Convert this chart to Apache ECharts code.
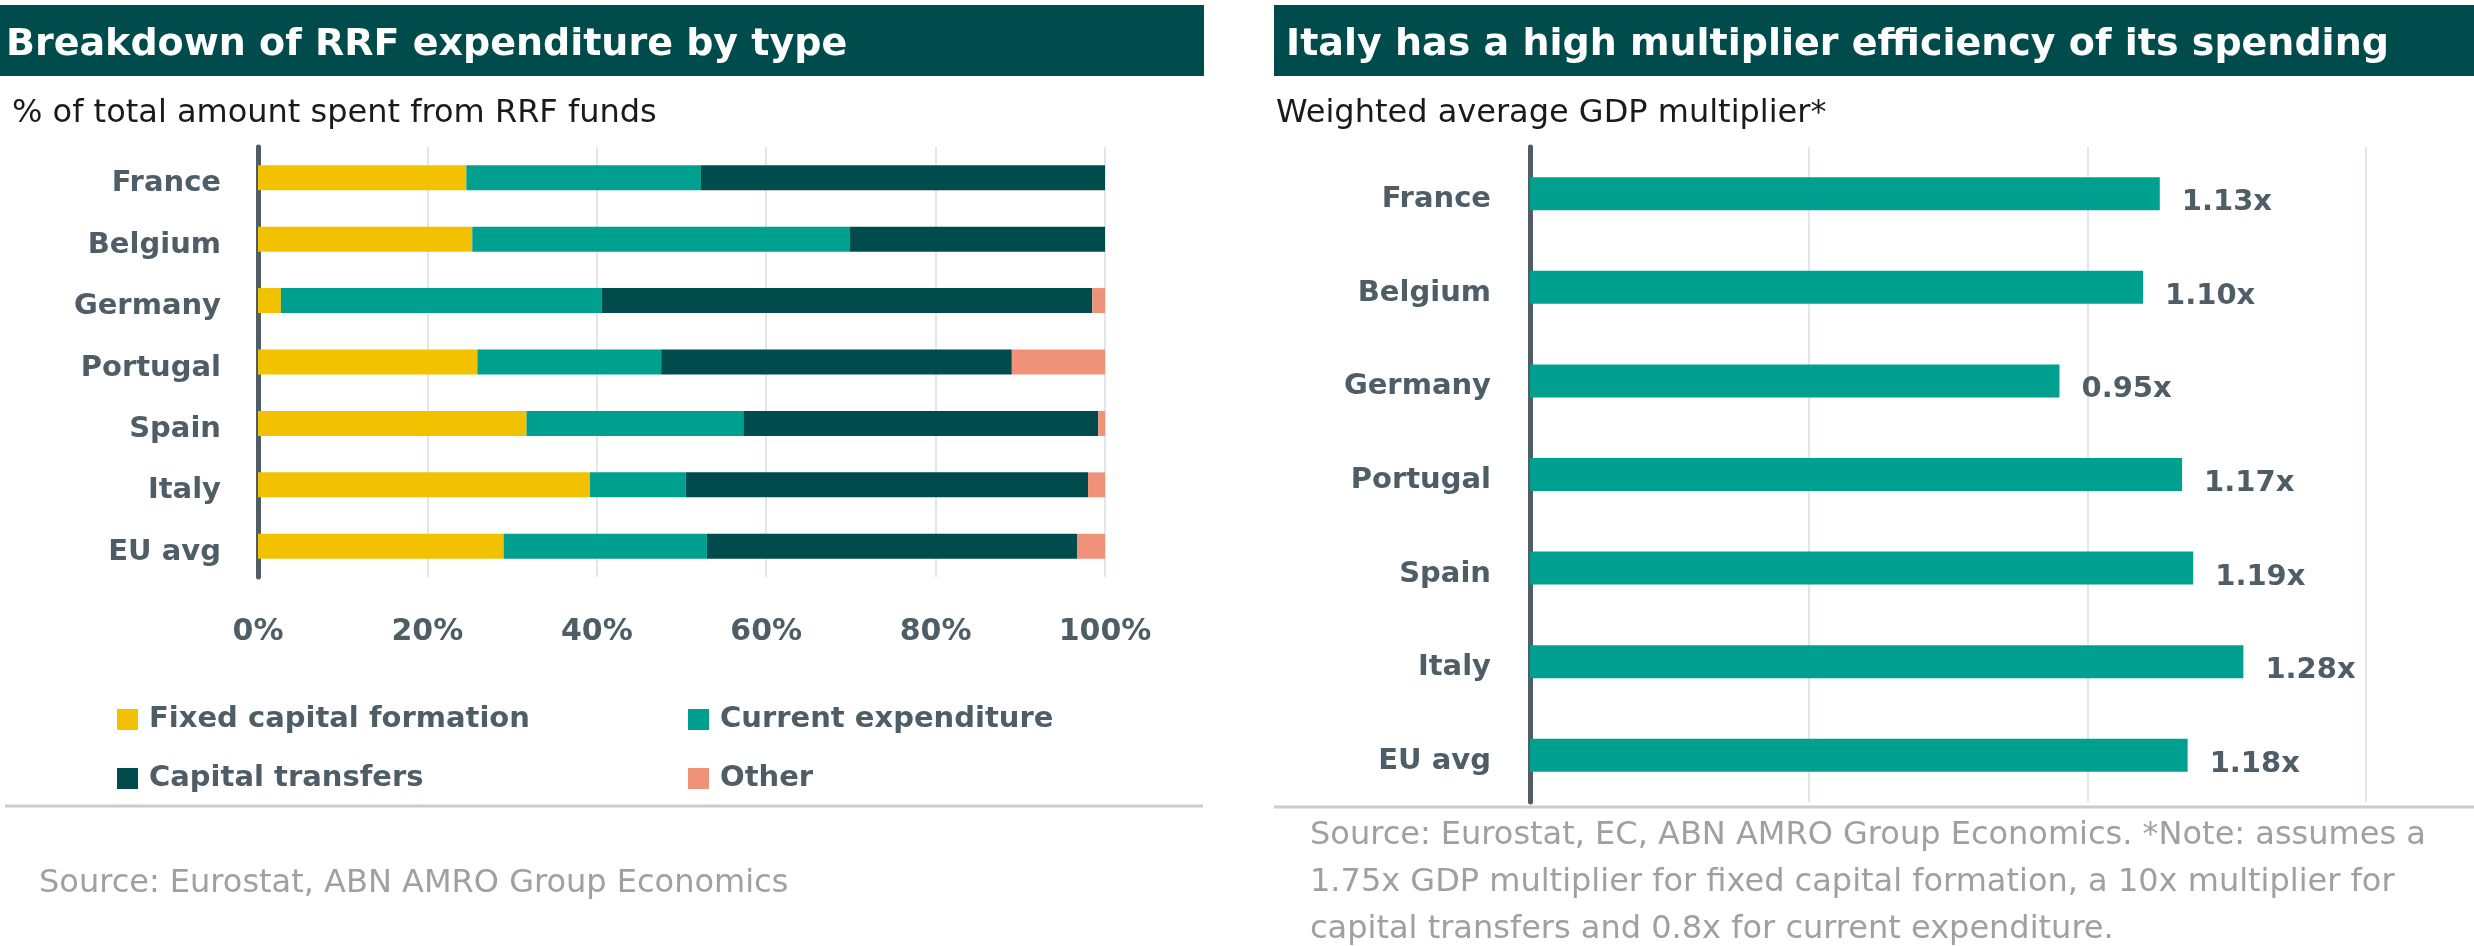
<!DOCTYPE html>
<html>
<head>
<meta charset="utf-8">
<script src="https://cdn.jsdelivr.net/npm/echarts@6/dist/echarts.min.js"></script>
<style>
html,body{margin:0;padding:0;background:#fff;}
#chart{width:2474px;height:946px;}
</style>
</head>
<body>
<div id="chart"></div>
<script>
// ---- data ----
const categories = ['France', 'Belgium', 'Germany', 'Portugal', 'Spain', 'Italy', 'EU avg'];
const fixedCapital = [24.6, 25.3, 2.7, 25.9, 31.7, 39.2, 29.0];
const currentExpenditure = [27.7, 44.6, 37.9, 21.7, 25.6, 11.3, 24.0];
const capitalTransfers = [47.7, 30.1, 57.9, 41.4, 41.9, 47.5, 43.7];
const other = [0, 0, 1.5, 11.0, 0.8, 2.0, 3.3];
const multiplier = [1.13, 1.10, 0.95, 1.17, 1.19, 1.28, 1.18];
const seriesNames = ['Fixed capital formation', 'Current expenditure', 'Capital transfers', 'Other'];
const leftTitle = 'Breakdown of RRF expenditure by type';
const leftSubtitle = '% of total amount spent from RRF funds';
const rightTitle = 'Italy has a high multiplier efficiency of its spending';
const rightSubtitle = 'Weighted average GDP multiplier*';
const leftSource = 'Source: Eurostat, ABN AMRO Group Economics';
const rightSource = [
  'Source: Eurostat, EC, ABN AMRO Group Economics. *Note: assumes a',
  '1.75x GDP multiplier for fixed capital formation, a 10x multiplier for',
  'capital transfers and 0.8x for current expenditure.'
];

// ---- style ----
const FONT = 'DejaVu Sans';
const DARK = '#004c4c';
const TEAL = '#00a090';
const YELLOW = '#f2c200';
const SALMON = '#f0917a';
const AXIS = '#4f5d66';
const GRID = '#e1e6e9';
const colors = [YELLOW, TEAL, DARK, SALMON];
const seriesData = [fixedCapital, currentExpenditure, capitalTransfers, other];

const chart = echarts.init(document.getElementById('chart'), null, {renderer: 'canvas'});

function txt(text, x, y, font, fill, align) {
  return {type: 'text', x: x, y: y, silent: true,
    style: {text: text, font: font, fill: fill, textAlign: align || 'left', textVerticalAlign: 'middle', verticalAlign: 'middle'}};
}

const graphics = [
  {type: 'rect', shape: {x: 0, y: 5, width: 1204, height: 71}, style: {fill: DARK}, silent: true},
  {type: 'rect', shape: {x: 1274, y: 5, width: 1200, height: 71}, style: {fill: DARK}, silent: true},
  txt(leftTitle, 6, 45, 'bold 38px ' + FONT, '#ffffff'),
  txt(rightTitle, 1286, 45, 'bold 38px ' + FONT, '#ffffff'),
  txt(leftSubtitle, 12, 114, '32px ' + FONT, '#1a1a1a'),
  txt(rightSubtitle, 1276, 114, '32px ' + FONT, '#1a1a1a'),
  {type: 'line', shape: {x1: 5, y1: 806, x2: 1203, y2: 806}, style: {stroke: '#cccccc', lineWidth: 3}, silent: true},
  {type: 'line', shape: {x1: 1274, y1: 807, x2: 2474, y2: 807}, style: {stroke: '#cccccc', lineWidth: 3}, silent: true},
  txt(leftSource, 39, 884, '32px ' + FONT, '#a0a0a0')
];
rightSource.forEach(function (line, i) {
  graphics.push(txt(line, 1310, 836 + i * 47, '32px ' + FONT, '#a0a0a0'));
});

const legendPos = [[117, 716], [688, 716], [117, 775], [688, 775]];
const legends = seriesNames.map(function (n, i) {
  return {
    data: [n], left: legendPos[i][0], top: legendPos[i][1] - 11, padding: 0,
    icon: 'rect', itemWidth: 21, itemHeight: 21, selectedMode: false,
    textStyle: {fontFamily: FONT, fontWeight: 'bold', fontSize: 29, color: AXIS, padding: [0, 0, 0, 6]}
  };
});

const catLabelRich = {
  c: {fontFamily: FONT, fontWeight: 'bold', fontSize: 29, color: AXIS, padding: [12, 0, 0, 0]}
};
function catLabel(v) { return '{c|' + v + '}'; }

const option = {
  animation: false,
  backgroundColor: '#ffffff',
  textStyle: {fontFamily: FONT},
  graphic: graphics,
  legend: legends,
  grid: [
    {left: 258, top: 147, width: 847, height: 430, containLabel: false},
    {left: 1530, top: 147, width: 836, height: 655, containLabel: false}
  ],
  xAxis: [
    {gridIndex: 0, type: 'value', min: 0, max: 100, interval: 20,
      axisLine: {show: false}, axisTick: {show: false},
      splitLine: {lineStyle: {color: GRID, width: 2}},
      axisLabel: {formatter: '{value}%', margin: 40, fontFamily: FONT, fontWeight: 'bold', fontSize: 30, color: AXIS}},
    {gridIndex: 1, type: 'value', min: 0, max: 1.5, interval: 0.5,
      axisLine: {show: false}, axisTick: {show: false},
      splitLine: {lineStyle: {color: GRID, width: 2}},
      axisLabel: {show: false}}
  ],
  yAxis: [
    {gridIndex: 0, type: 'category', data: categories, inverse: true,
      axisLine: {lineStyle: {color: AXIS, width: 5}},
      axisTick: {length: 12, lineStyle: {color: AXIS, width: 5}},
      axisLabel: {margin: 37, formatter: catLabel, rich: catLabelRich}},
    {gridIndex: 1, type: 'category', data: categories, inverse: true,
      axisLine: {lineStyle: {color: AXIS, width: 5}},
      axisTick: {length: 12, lineStyle: {color: AXIS, width: 5}},
      axisLabel: {margin: 39, formatter: catLabel, rich: catLabelRich}}
  ],
  series: seriesNames.map(function (n, i) {
    return {name: n, type: 'bar', stack: 'rrf', xAxisIndex: 0, yAxisIndex: 0,
      data: seriesData[i], barWidth: 25, itemStyle: {color: colors[i]}};
  }).concat([{
    name: 'Multiplier', type: 'bar', xAxisIndex: 1, yAxisIndex: 1,
    data: multiplier, barWidth: 33, itemStyle: {color: TEAL},
    label: {show: true, position: 'right', distance: 22, offset: [0, 9],
      formatter: function (p) { return p.value.toFixed(2) + 'x'; },
      fontFamily: FONT, fontWeight: 'bold', fontSize: 29, color: AXIS}
  }])
};
chart.setOption(option);
</script>
</body>
</html>
